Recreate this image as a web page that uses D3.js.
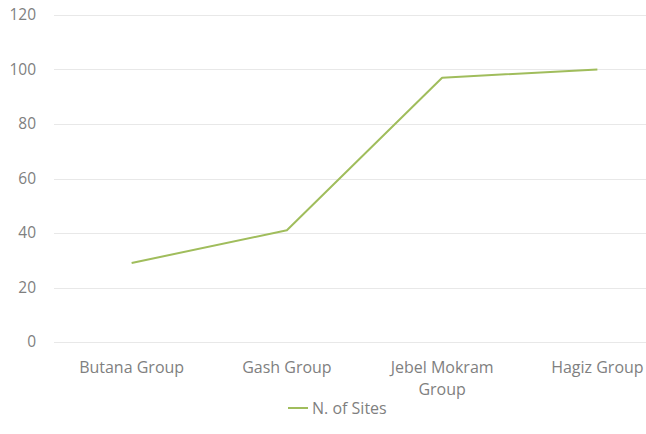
<!DOCTYPE html>
<html>
<head>
<meta charset="utf-8">
<script src="https://cdn.jsdelivr.net/npm/d3@7/dist/d3.min.js"></script>
<style>
  html, body { margin: 0; padding: 0; background: #ffffff; }
  svg { display: block; }
  text { font-family: "Open Sans", Lato, sans-serif; fill: #7f7f7f; }
</style>
</head>
<body>
<svg id="chart" width="646" height="434"></svg>
<script>
// Number of sites per cultural group
const categories = ["Butana Group", "Gash Group", "Jebel Mokram Group", "Hagiz Group"];
const siteCounts = [29, 41, 97, 100];
const yTicks = [0, 20, 40, 60, 80, 100, 120];
const seriesName = "N. of Sites";

const FONT = "'Open Sans', Lato, sans-serif";
const FS = 16;

const svg = d3.select("#chart");
const left = 54;
const plotRight = 675;

const x = d3.scaleBand()
  .domain(categories)
  .range([left, plotRight]);

const y = d3.scaleLinear()
  .domain([0, 120])
  .range([342, 15]);

// horizontal gridlines
svg.append("g")
  .selectAll("line")
  .data(yTicks)
  .join("line")
  .attr("x1", left)
  .attr("x2", 646)
  .attr("y1", d => Math.round(y(d)) + 0.5)
  .attr("y2", d => Math.round(y(d)) + 0.5)
  .attr("stroke", "#e8e8e8")
  .attr("stroke-width", 1);

// y axis labels
const yAxis = d3.axisLeft(y).tickValues(yTicks).tickSize(0).tickPadding(0);
svg.append("g")
  .attr("transform", `translate(36,0)`)
  .call(yAxis)
  .call(g => g.select(".domain").remove())
  .call(g => g.selectAll("text")
    .attr("font-size", 15.5)
    .attr("fill", "#7f7f7f")
    .style("font-family", FONT));

// x axis category labels (wrapped)
const xAxis = d3.axisBottom(x).tickSize(0).tickPadding(0);
const xg = svg.append("g")
  .attr("transform", `translate(0,${y(0)})`)
  .call(xAxis)
  .call(g => g.select(".domain").remove());

xg.selectAll(".tick text").each(function(d) {
  const t = d3.select(this);
  t.text(null)
    .attr("y", 0)
    .attr("dy", null)
    .attr("font-size", FS)
    .attr("fill", "#7f7f7f")
    .style("font-family", FONT);
  const lines = d === "Jebel Mokram Group" ? ["Jebel Mokram", "Group"] : [d];
  lines.forEach((ln, i) => {
    t.append("tspan")
      .attr("x", 0)
      .attr("y", 31 + i * 22)
      .text(ln);
  });
});

// series line
const line = d3.line()
  .x((d, i) => x(categories[i]) + x.bandwidth() / 2)
  .y(d => y(d));

svg.append("path")
  .datum(siteCounts)
  .attr("fill", "none")
  .attr("stroke", "#a0bd5c")
  .attr("stroke-width", 2)
  .attr("stroke-linejoin", "round")
  .attr("d", line);

// legend
const legend = svg.append("g").attr("transform", "translate(288,408)");
legend.append("line")
  .attr("x1", 0).attr("x2", 20)
  .attr("y1", 0).attr("y2", 0)
  .attr("stroke", "#a0bd5c")
  .attr("stroke-width", 2);
legend.append("text")
  .attr("x", 24)
  .attr("y", 5.5)
  .attr("font-size", FS)
  .style("font-family", FONT)
  .text(seriesName);
</script>
</body>
</html>
